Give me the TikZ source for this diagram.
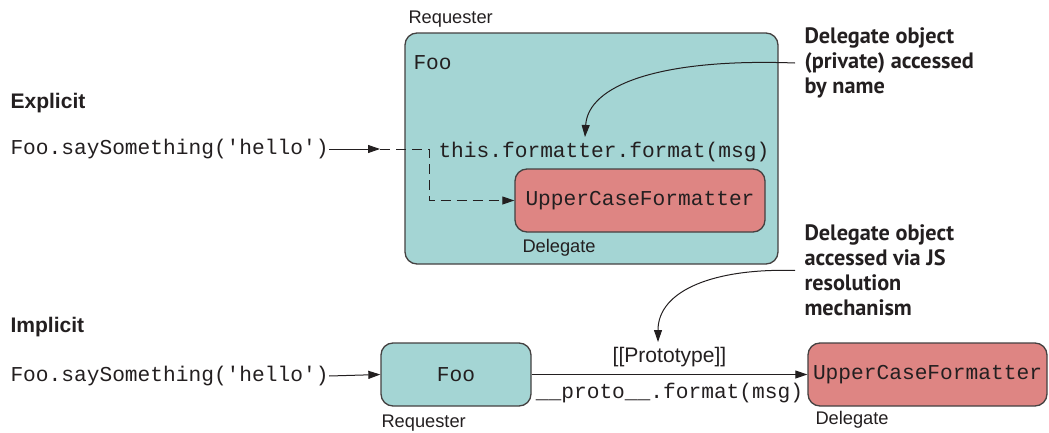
\documentclass[tikz,border=0pt]{standalone}
\usepackage{fontspec}
\setmainfont{Liberation Sans}
\setmonofont{Liberation Mono}
\newfontfamily\notefont{PT Sans}
\usetikzlibrary{arrows.meta}

\definecolor{reqteal}{RGB}{164,213,212}
\definecolor{delred}{RGB}{222,133,131}
\definecolor{ink}{RGB}{35,31,32}

\tikzset{every picture/.style={line width=0.75pt}}
\tikzset{
  codetxt/.style={font=\fontsize{15.9pt}{18pt}\selectfont\ttfamily, text=ink, inner sep=0pt},
  tagtxt/.style={font=\fontsize{13.7pt}{16pt}\selectfont, text=ink, inner sep=0pt},
  headtxt/.style={font=\fontsize{15.8pt}{18pt}\selectfont\bfseries, text=ink, inner sep=0pt},
  notetxt/.style={font=\fontsize{16.7pt}{18.75pt}\selectfont\notefont\bfseries, text=ink, inner ysep=0pt, inner xsep=6.75pt, align=left},
  reqbox/.style={draw=ink!85, fill=reqteal, rounded corners=9pt, line width=1pt},
  delbox/.style={draw=ink!85, fill=delred, rounded corners=9pt, line width=1pt},
  callarrow/.style={-{Triangle[length=9pt,width=6pt]}, draw=ink},
  dasharrow/.style={callarrow, dash pattern=on 7.5pt off 4.5pt},
}

\begin{document}
\begin{tikzpicture}[x=0.75pt,y=0.75pt,yscale=-1,xscale=1]
\useasboundingbox (0,0) rectangle (1049,432);

% Explicit
\node[headtxt, anchor=west] (explicit) at (10,103) {Explicit};
\node[codetxt, anchor=west] (call1) at (10,149) {Foo.saySomething('hello')};
\node[tagtxt, anchor=west] (req1) at (408,19) {Requester};
\node[reqbox, minimum width=279.75pt, minimum height=173.25pt] (foo1) at (591.5,148.5) {};
\node[codetxt, anchor=west] (fooname1) at (413,63) {Foo};
\node[codetxt, anchor=west] (callfmt1) at (438,152) {this.formatter.format(msg)};
\node[delbox, codetxt, minimum width=187.5pt, minimum height=47.25pt] (fmt1) at (640,200.5) {UpperCaseFormatter};
\node[tagtxt, anchor=west] (del1) at (522,248) {Delegate};
\node[notetxt, anchor=west] (note1) at (795,63) {Delegate object\\(private) accessed\\by name};

\coordinate (entry1) at (380,149);
\coordinate (bend1) at (429,149);
\coordinate (hit1) at (585,137);
\draw[callarrow] (call1.east) -- (entry1);
\draw[dasharrow] (entry1) -- (bend1) |- (fmt1.west);
\draw[callarrow] (note1.west) .. controls (660,58) and (588,85) .. (hit1);

% Implicit
\node[headtxt, anchor=west] (implicit) at (10,327) {Implicit};
\node[codetxt, anchor=west] (call2) at (10,376) {Foo.saySomething('hello')};
\node[reqbox, codetxt, minimum width=112.5pt, minimum height=47.25pt] (foo2) at (456,374.5) {Foo};
\node[tagtxt, anchor=west] (req2) at (381,423) {Requester};
\node[delbox, codetxt, minimum width=179.25pt, minimum height=47.25pt] (fmt2) at (927.5,374.5) {UpperCaseFormatter};
\node[tagtxt, anchor=west] (del2) at (815,420) {Delegate};
\node[notetxt, anchor=west] (note2) at (795,270.5) {Delegate object\\accessed via JS\\resolution\\mechanism};

\coordinate (hit2) at (658,342);
\draw[callarrow] (call2.east) -- (foo2.west);
\draw[callarrow] (foo2.east) -- node[above=5pt, font=\fontsize{15.8pt}{18pt}\selectfont, text=ink, inner sep=0pt] (proto) {[[Prototype]]}
  node[below=6pt, codetxt] (protocall) {\_\_proto\_\_.format(msg)} (fmt2.west);
\draw[callarrow] (note2.west) .. controls (715,268) and (658,290) .. (hit2);

\end{tikzpicture}
\end{document}
